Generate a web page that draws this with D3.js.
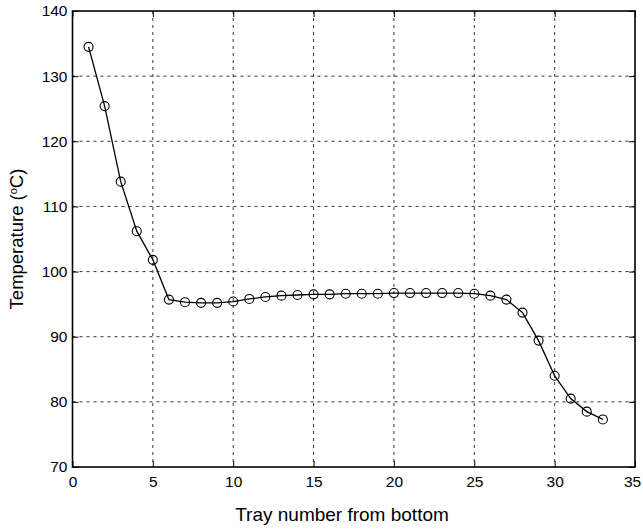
<!DOCTYPE html>
<html>
<head>
<meta charset="utf-8">
<script src="https://cdn.jsdelivr.net/npm/d3@7"></script>
<style>
  body { margin: 0; background: #fff; }
  svg { font-family: 'Liberation Sans', Arial, sans-serif; }
</style>
</head>
<body>
<svg width="643" height="529"></svg>
<script>
var svg = d3.select('svg');

// tray numbers and temperatures (°C)
var trays = [1, 2, 3, 4, 5, 6, 7, 8, 9, 10, 11, 12, 13, 14, 15, 16, 17,
    18, 19, 20, 21, 22, 23, 24, 25, 26, 27, 28, 29, 30, 31, 32, 33];
var temps = [134.5, 125.4, 113.8, 106.2, 101.8, 95.7, 95.3, 95.2, 95.2, 95.4,
    95.8, 96.1, 96.3, 96.4, 96.5, 96.5, 96.6, 96.6, 96.6, 96.7, 96.7, 96.7,
    96.7, 96.7, 96.6, 96.3, 95.7, 93.7, 89.4, 84.0, 80.5, 78.5, 77.3];
var xTicks = [0, 5, 10, 15, 20, 25, 30, 35];
var yTicks = [70, 80, 90, 100, 110, 120, 130, 140];

// plot box (note: "top" is reserved on window, so use other names)
var plotL = 72.5, plotR = 635, plotT = 11, plotB = 467;

var x = d3.scaleLinear().domain([0, 35]).range([plotL, plotR]);
var y = d3.scaleLinear().domain([70, 140]).range([plotB, plotT]);

// grid
var grid = svg.append('g').attr('class', 'grid');
grid.selectAll('.vgrid')
    .data(xTicks.slice(1, -1))
    .enter()
    .append('line')
    .attr('x1', function(d) { return x(d); })
    .attr('x2', function(d) { return x(d); })
    .attr('y1', plotT)
    .attr('y2', plotB)
    .attr('stroke', '#333')
    .attr('stroke-width', 1)
    .attr('stroke-dasharray', '3,4');
grid.selectAll('.hgrid')
    .data(yTicks.slice(1, -1))
    .enter()
    .append('line')
    .attr('x1', plotL)
    .attr('x2', plotR)
    .attr('y1', function(d) { return y(d); })
    .attr('y2', function(d) { return y(d); })
    .attr('stroke', '#333')
    .attr('stroke-width', 1)
    .attr('stroke-dasharray', '3,4');

// axes with inward ticks
var xAxis = d3.axisBottom(x).tickValues(xTicks).tickSizeInner(-6).tickSizeOuter(0).tickPadding(9);
var yAxis = d3.axisLeft(y).tickValues(yTicks).tickSizeInner(-6).tickSizeOuter(0).tickPadding(5);

var gx = svg.append('g')
    .attr('transform', 'translate(0,' + plotB + ')')
    .call(xAxis);
var gy = svg.append('g')
    .attr('transform', 'translate(' + plotL + ',0)')
    .call(yAxis);
[gx, gy].forEach(function(g) {
    g.select('.domain').remove();
    g.selectAll('line').attr('stroke', '#000');
    g.selectAll('text')
        .style('font-size', '15.5px')
        .attr('fill', '#000');
});
// keep the last x label inside the window
gx.selectAll('text').filter(function(d) { return d === 35; }).attr('dx', -3);

// right/top inward ticks
svg.append('g')
    .attr('transform', 'translate(' + plotR + ',0)')
    .call(d3.axisRight(y).tickValues(yTicks).tickSizeInner(-6).tickSizeOuter(0).tickFormat(''))
    .call(function(g) { g.select('.domain').remove(); g.selectAll('line').attr('stroke', '#000'); });
svg.append('g')
    .attr('transform', 'translate(0,' + plotT + ')')
    .call(d3.axisTop(x).tickValues(xTicks).tickSizeInner(-6).tickSizeOuter(0).tickFormat(''))
    .call(function(g) { g.select('.domain').remove(); g.selectAll('line').attr('stroke', '#000'); });

// frame
svg.append('rect')
    .attr('x', plotL)
    .attr('y', plotT)
    .attr('width', plotR - plotL)
    .attr('height', plotB - plotT)
    .attr('fill', 'none')
    .attr('stroke', '#000')
    .attr('stroke-width', 1.6);

// line + markers
var pts = trays.map(function(t, i) { return [t, temps[i]]; });
var line = d3.line()
    .x(function(d) { return x(d[0]); })
    .y(function(d) { return y(d[1]); });
svg.append('path')
    .datum(pts)
    .attr('d', line)
    .attr('fill', 'none')
    .attr('stroke', '#000')
    .attr('stroke-width', 1.3);
svg.selectAll('.pt')
    .data(pts)
    .enter()
    .append('circle')
    .attr('class', 'pt')
    .attr('cx', function(d) { return x(d[0]); })
    .attr('cy', function(d) { return y(d[1]); })
    .attr('r', 4.5)
    .attr('fill', 'none')
    .attr('stroke', '#000')
    .attr('stroke-width', 1.1);

// axis titles
svg.append('text')
    .attr('x', 342)
    .attr('y', 521)
    .attr('text-anchor', 'middle')
    .style('font-size', '19px')
    .text('Tray number from bottom');

var yt = svg.append('text')
    .attr('transform', 'translate(23,' + (plotT + plotB) / 2 + ') rotate(-90)')
    .attr('text-anchor', 'middle')
    .style('font-size', '18.5px');
yt.append('tspan').text('Temperature (');
yt.append('tspan').attr('dy', -6).style('font-size', '11px').text('o');
yt.append('tspan').attr('dy', 6).text('C)');
</script>
</body>
</html>
